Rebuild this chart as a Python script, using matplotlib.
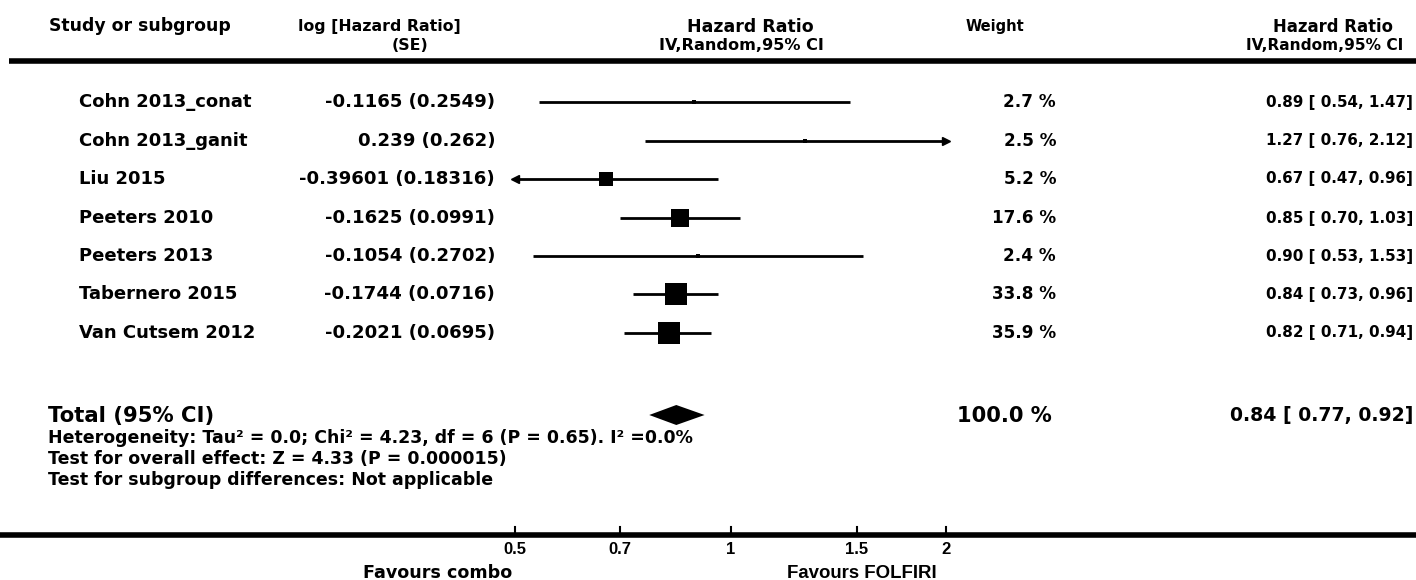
import numpy as np
import matplotlib
matplotlib.use('Agg')
import matplotlib.pyplot as plt

plt.rcParams['font.family'] = ['DejaVu Sans']

# data
studies = ['Cohn 2013_conat', 'Cohn 2013_ganit', 'Liu 2015', 'Peeters 2010',
           'Peeters 2013', 'Tabernero 2015', 'Van Cutsem 2012']
log_hr = ['-0.1165', '0.239', '-0.39601', '-0.1625', '-0.1054', '-0.1744', '-0.2021']
se = ['0.2549', '0.262', '0.18316', '0.0991', '0.2702', '0.0716', '0.0695']
weights = [2.7, 2.5, 5.2, 17.6, 2.4, 33.8, 35.9]
hr = [0.89, 1.27, 0.67, 0.85, 0.90, 0.84, 0.82]
ci_lo = [0.54, 0.76, 0.47, 0.70, 0.53, 0.73, 0.71]
ci_hi = [1.47, 2.12, 0.96, 1.03, 1.53, 0.96, 0.94]
total_hr, total_lo, total_hi = 0.84, 0.77, 0.92
ticks = [0.5, 0.7, 1, 1.5, 2]
tick_labels = ['0.5', '0.7', '1', '1.5', '2']

W, H = 1416, 580
fig = plt.figure(figsize=(W / 100, H / 100), dpi=100)
renderer = fig.canvas.get_renderer()

# text layer in pixel coords
ax = fig.add_axes([0, 0, 1, 1])
ax.set_xlim(0, W)
ax.set_ylim(H, 0)
ax.axis('off')

# forest layer: log x, 0.5 -> 515 px, 2 -> 946 px
k = (946 - 515) / np.log(4)
x_one = 515 + k * np.log(2)
fx = fig.add_axes([0, 0, 1, 1])
fx.set_xscale('log')
fx.set_xlim(np.exp(-x_one / k), np.exp((W - x_one) / k))
fx.set_ylim(H, 0)
fx.axis('off')
fx.patch.set_alpha(0)

bold = dict(fontweight='bold', color='black', va='center')
narrow = ['Liberation Sans Narrow', 'Liberation Sans', 'DejaVu Sans']


def fit_size(txt, width):
    # font size that makes txt 'width' pixels wide
    w = txt.get_window_extent(renderer).width
    return txt.get_fontsize() * width / w


def put(x, y, s, width, ha='left', **kw):
    t = ax.text(x, y, s, fontsize=10, ha=ha, **bold, **kw)
    t.set_fontsize(fit_size(t, width))
    return t


# header
put(49, 26, 'Study or subgroup', 181)
h1 = put(379, 26, 'log [Hazard Ratio]', 162, ha='center')
ax.text(410, 45, '(SE)', fontsize=h1.get_fontsize(), ha='center', **bold)
put(750, 27, 'Hazard Ratio', 127, ha='center')
put(741, 45, 'IV,Random,95% CI', 165, ha='center')
put(995, 26, 'Weight', 58, ha='center')
put(1333, 27, 'Hazard Ratio', 121, ha='center')
put(1325, 45, 'IV,Random,95% CI', 157, ha='center')
ax.plot([9, W], [61, 61], color='black', lw=4, solid_capstyle='butt')

row_y = [102, 141, 179, 218, 256, 294, 333]
names = [ax.text(79, y, s, fontsize=10, ha='left', **bold) for y, s in zip(row_y, studies)]
lhr = [ax.text(495, y, f'{a} ({b})', fontsize=10, ha='right', **bold)
       for y, a, b in zip(row_y, log_hr, se)]
wts = [ax.text(1056, y, f'{w:.1f} %', fontsize=10, ha='right', **bold)
       for y, w in zip(row_y, weights)]
hrs = [ax.text(1266, y, f'{h:.2f} [ {a:.2f}, {b:.2f}]', fontsize=10, ha='left', **bold)
       for y, h, a, b in zip(row_y, hr, ci_lo, ci_hi)]

for col, ref, width in [(names, 1, 169), (lhr, 2, 196), (wts, 3, 64), (hrs, 1, 148)]:
    size = fit_size(col[ref], width)
    for t in col:
        t.set_fontsize(size)

lo_lim, hi_lim = 0.5, 2.0
for i in range(len(studies)):
    y = row_y[i]
    x0 = max(ci_lo[i], lo_lim)
    x1 = min(ci_hi[i], hi_lim)
    fx.plot([x0, x1], [y, y], color='black', lw=2, solid_capstyle='butt')
    if ci_lo[i] < lo_lim:
        fx.plot(x0, y, marker='<', color='black', ms=6)
    if ci_hi[i] > hi_lim:
        fx.plot(x1, y, marker='>', color='black', ms=6)
    side = 4 if weights[i] < 3 else 22 * (weights[i] / 33.8) ** 0.28
    fx.plot(hr[i], y, marker='s', color='black', ms=side * 0.72, mew=0)

# total
ty = 416
put(48, ty, 'Total (95% CI)', 166)
put(1052, ty, '100.0 %', 95, ha='right')
put(1230, ty, f'{total_hr:.2f} [ {total_lo:.2f}, {total_hi:.2f}]', 184)
fx.fill([total_lo, total_hr, total_hi, total_hr], [415, 405, 415, 425], color='black', lw=0)

stats = ['Heterogeneity: Tau\u00b2 = 0.0; Chi\u00b2 = 4.23, df = 6 (P = 0.65). I\u00b2 =0.0%',
         'Test for overall effect: Z = 4.33 (P = 0.000015)',
         'Test for subgroup differences: Not applicable']
st = [ax.text(48, 438 + 21 * j, s, fontsize=10, ha='left', **bold) for j, s in enumerate(stats)]
size = fit_size(st[0], 644)
for t in st:
    t.set_fontsize(size)

# bottom axis
ax.plot([0, W], [535, 535], color='black', lw=4, solid_capstyle='butt')
for t, lab in zip(ticks, tick_labels):
    fx.plot([t, t], [527, 535], color='black', lw=1.5)
    fx.text(t, 550, lab, fontsize=12, ha='center', family=narrow, **bold)
put(438, 573, 'Favours combo', 149, ha='center')
put(862, 573, 'Favours FOLFIRI', 150, ha='center', family=narrow)

fig.savefig('out.png', dpi=100)
